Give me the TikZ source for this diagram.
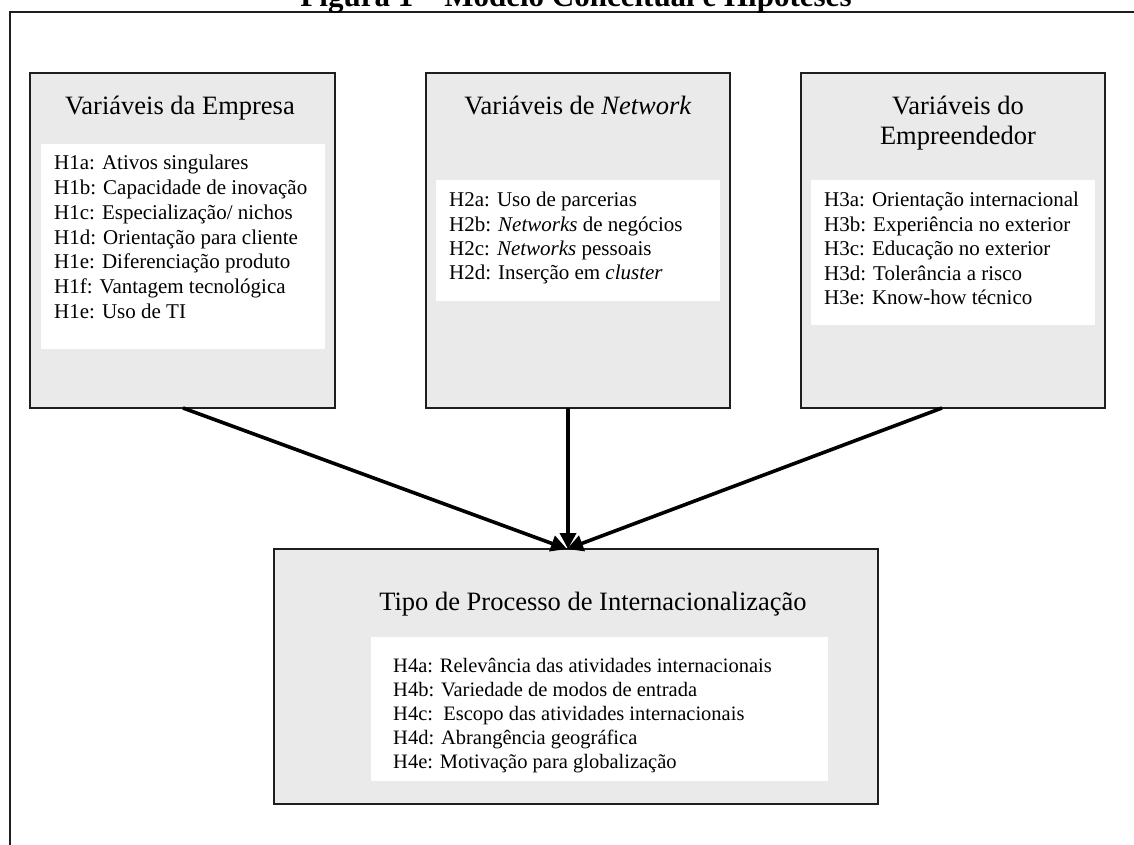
\documentclass[tikz,border=0pt]{standalone}
\usepackage{fontspec}
\setmainfont{Liberation Serif}
\usetikzlibrary{arrows.meta}
\definecolor{boxgray}{HTML}{EAEAEA}
\definecolor{edge}{HTML}{1E1E1E}
\begin{document}
\begin{tikzpicture}[x=1pt,y=-1pt,
  gbox/.style={draw=edge, line width=1.6pt, fill=boxgray, anchor=north west, inner sep=0pt, outer sep=0pt},
  wbox/.style={fill=white, draw=none, anchor=north west, inner sep=0pt, outer sep=0pt},
  ttl/.style={font=\fontsize{26.5}{30}\selectfont, anchor=base, inner sep=0pt},
  item/.style={font=\fontsize{21}{24}\selectfont, anchor=base west, inner sep=0pt},
  itemb/.style={font=\fontsize{20.5}{24}\selectfont, anchor=base west, inner sep=0pt},
  figttl/.style={font=\bfseries\fontsize{31}{34}\selectfont, anchor=base, inner sep=0pt},
  arr/.style={line width=3.6pt, -{Triangle[length=16pt,width=16pt]}}]
\useasboundingbox (0,0) rectangle (1134,845);
% outer frame (cut by the page)
\draw[edge, line width=1.6pt] (1200,12) -- (10,12) -- (10,900);
\node[figttl] (fig) at (576,7) {Figura 1 – Modelo Conceitual e Hipóteses};

% box 1
\node[gbox, minimum width=305pt, minimum height=335pt] (b1) at (30,73) {};
\node[wbox, minimum width=284pt, minimum height=205pt] (w1) at (41,144) {};
\node[ttl] (t1) at (180,115) {Variáveis da Empresa};
\foreach \txt [count=\i from 0] in {H1a: Ativos singulares,H1b: Capacidade de inovação,H1c: Especialização/ nichos,H1d: Orientação para cliente,H1e: Diferenciação produto,H1f: Vantagem tecnológica,H1e: Uso de TI}
  \node[item] (i1-\i) at (54,170+24.7*\i) {\txt};

% box 2
\node[gbox, minimum width=304pt, minimum height=335pt] (b2) at (426,73) {};
\node[wbox, minimum width=284pt, minimum height=121pt] (w2) at (436,180) {};
\node[ttl] (t2) at (578,115) {Variáveis de \textit{Network}};
\foreach \txt [count=\i from 0] in {H2a: Uso de parcerias,H2b: \textit{Networks} de negócios,H2c: \textit{Networks} pessoais,H2d: Inserção em \textit{cluster}}
  \node[item] (i2-\i) at (449,206.7+24.4*\i) {\txt};

% box 3
\node[gbox, minimum width=304pt, minimum height=335pt] (b3) at (801,73) {};
\node[wbox, minimum width=284pt, minimum height=145pt] (w3) at (811,180) {};
\node[ttl] (t3a) at (958,115) {Variáveis do};
\node[ttl] (t3b) at (958,145) {Empreendedor};
\foreach \txt [count=\i from 0] in {H3a: Orientação internacional,H3b: Experiência no exterior,H3c: Educação no exterior,H3d: Tolerância a risco,H3e: Know-how técnico}
  \node[item] (i3-\i) at (824,206.7+24.5*\i) {\txt};

% box 4
\node[gbox, minimum width=604pt, minimum height=255pt] (b4) at (274,549) {};
\node[wbox, minimum width=457pt, minimum height=144pt] (w4) at (371,637) {};
\node[ttl] (t4) at (593,610) {Tipo de Processo de Internacionalização};
\foreach \txt [count=\i from 0] in {H4a: Relevância das atividades internacionais,H4b: Variedade de modos de entrada,H4c:\ \ Escopo das atividades internacionais,H4d: Abrangência geográfica,H4e: Motivação para globalização}
  \node[itemb] (i4-\i) at (393,672+24*\i) {\txt};

% connectors
\coordinate (s1) at (183,408);
\coordinate (s2) at (568,408);
\coordinate (s3) at (942,408);
\coordinate (tip) at (567,549);
\coordinate (tip2) at (568,549);
\draw[arr] (s1) -- (tip);
\draw[arr] (s2) -- (tip2);
\draw[arr] (s3) -- (tip);
\end{tikzpicture}
\end{document}
